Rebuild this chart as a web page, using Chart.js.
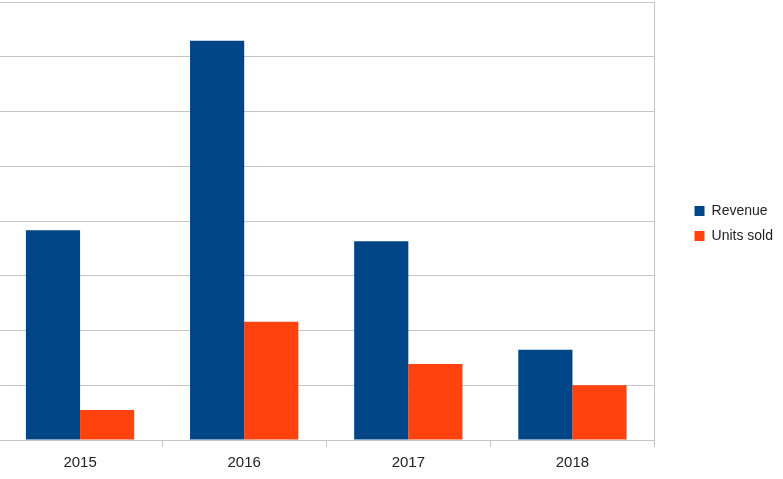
<!DOCTYPE html>
<html>
<head>
<meta charset="utf-8">
<script src="https://cdn.jsdelivr.net/npm/chart.js@4/dist/chart.umd.min.js"></script>
<style>
  body { margin: 0; background: #fff; }
  #wrap { position: relative; width: 783px; height: 479px; overflow: hidden; }
  canvas { position: absolute; left: -2px; top: 0; }
</style>
</head>
<body>
<div id="wrap"><canvas id="chart" width="785" height="479"></canvas></div>
<script>
"use strict";

// categories + series values (grid step = 10)
var years = ["2015", "2016", "2017", "2018"];
var revenue = [38.3, 72.9, 36.3, 16.5];
var unitsSold = [5.5, 21.6, 13.9, 10.0];
var seriesNames = ["Revenue", "Units sold"];

var gridColor = "#c6c6c6";

// legend sits a bit above the middle in the original
var legendLift = {
  id: "legendLift",
  afterLayout: function (chart) {
    if (chart.legend) {
      chart.legend.bottom -= 34;
    }
  }
};

var ctx = document.getElementById("chart");
var chart = new Chart(ctx, {
  type: "bar",
  data: {
    labels: years,
    datasets: [
      {
        label: seriesNames[0],
        data: revenue,
        backgroundColor: "#004586",
        borderWidth: 0,
        categoryPercentage: 0.66,
        barPercentage: 1.0
      },
      {
        label: seriesNames[1],
        data: unitsSold,
        backgroundColor: "#ff420e",
        borderWidth: 0,
        categoryPercentage: 0.66,
        barPercentage: 1.0
      }
    ]
  },
  options: {
    responsive: false,
    animation: false,
    layout: { padding: { top: 2, bottom: 0, left: 0, right: 0 } },
    plugins: {
      tooltip: { enabled: false },
      legend: {
        position: "right",
        align: "center",
        labels: {
          boxWidth: 10,
          boxHeight: 10,
          padding: 11,
          color: "#222",
          font: { family: "'Liberation Sans', Arial, sans-serif", size: 14 }
        }
      }
    },
    scales: {
      x: {
        grid: {
          display: true,
          drawOnChartArea: false,
          drawTicks: true,
          tickLength: 7,
          color: gridColor
        },
        border: { display: true, color: gridColor },
        ticks: {
          padding: 7,
          color: "#222",
          font: { family: "'Liberation Sans', Arial, sans-serif", size: 15 }
        }
      },
      y: {
        min: 0,
        max: 80,
        ticks: { display: false, stepSize: 10 },
        grid: { color: gridColor, drawTicks: false },
        border: { display: false }
      },
      y2: {
        position: "right",
        min: 0,
        max: 80,
        ticks: { display: false },
        grid: { drawOnChartArea: false, drawTicks: false },
        border: { display: true, color: gridColor },
        afterFit: function (scale) {
          scale.width = 29;
        }
      }
    }
  },
  plugins: [legendLift]
});
console.log("chartArea", JSON.stringify(chart.chartArea));
</script>
</body>
</html>
